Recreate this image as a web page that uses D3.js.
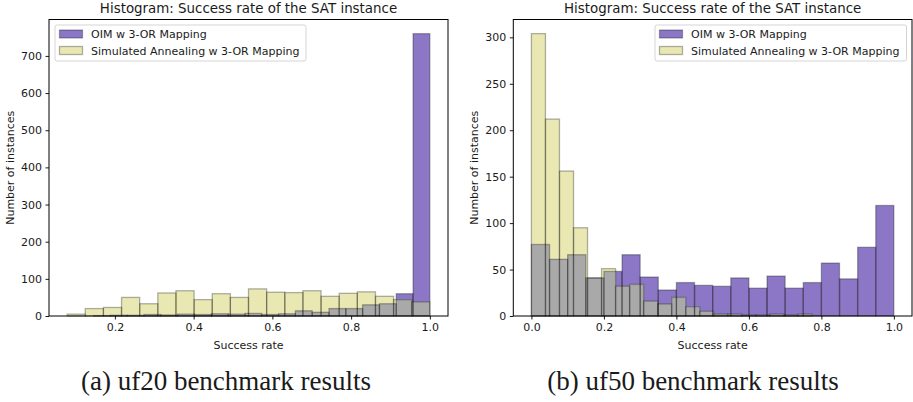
<!DOCTYPE html>
<html>
<head>
<meta charset="utf-8">
<script src="https://cdn.jsdelivr.net/npm/d3@7"></script>
<style>
  body { margin: 0; background: #fff; }
  svg { display: block; }
  text { font-family: "DejaVu Sans", sans-serif; fill: #1a1a1a; }
  .caption { font-family: "Liberation Serif", serif; }
</style>
</head>
<body>
<script>
// 데이터: 히스토그램 bin 범위와 개수
const seriesNames = ['OIM w 3-OR Mapping', 'Simulated Annealing w 3-OR Mapping'];

const uf20OimRange = [0.146, 1.0];
const uf20OimCounts = [1, 2, 2, 4, 3, 5, 4, 6, 5, 7, 4, 6, 14, 10, 20, 20, 30, 33, 60, 760];
const uf20SaRange = [0.0787, 1.0];
const uf20SaCounts = [5, 20, 23, 50, 33, 62, 68, 44, 60, 50, 73, 64, 63, 68, 53, 61, 65, 53, 44, 38];

const uf50OimRange = [0.0, 1.0];
const uf50OimCounts = [77, 61, 66, 41, 48, 66, 42, 28, 36, 33, 32, 41, 30, 43, 30, 36, 57, 40, 74, 119];
const uf50SaRange = [0.0, 0.774];
const uf50SaCounts = [304, 212, 156, 95, 41, 51, 32, 34, 16, 13, 20, 10, 5, 2, 2, 1, 1, 2, 1, 2];

const uf20XTicks = [0.2, 0.4, 0.6, 0.8, 1.0];
const uf20YTicks = [0, 100, 200, 300, 400, 500, 600, 700];
const uf50XTicks = [0.0, 0.2, 0.4, 0.6, 0.8, 1.0];
const uf50YTicks = [0, 50, 100, 150, 200, 250, 300];

const titleText = 'Histogram: Success rate of the SAT instance';
const xLabelText = 'Success rate';
const yLabelText = 'Number of instances';
const captions = ['(a) uf20 benchmark results', '(b) uf50 benchmark results'];

const oimColor = '#8b77c5';
const saColor = '#e9e8b2';
const overlapColor = '#a9a9a9';
const edgeColor = 'rgba(0,0,0,0.3)';

function makeBins(range, counts) {
    const w = (range[1] - range[0]) / counts.length;
    return counts.map((c, i) => ({ x0: range[0] + i * w, x1: range[0] + (i + 1) * w, count: c }));
}

function barAttrs(sel, x, y) {
    sel.attr('x', d => x(d.x0))
        .attr('y', d => y(d.count))
        .attr('width', d => x(d.x1) - x(d.x0))
        .attr('height', d => y(0) - y(d.count));
}

function drawPanel(svg, p) {
    const oimBins = makeBins(p.oimRange, p.oimCounts);
    const saBins = makeBins(p.saRange, p.saCounts);

    const lo = Math.min(p.oimRange[0], p.saRange[0]);
    const hi = Math.max(p.oimRange[1], p.saRange[1]);
    const pad = (hi - lo) * 0.05;
    const maxCount = d3.max(p.oimCounts.concat(p.saCounts));

    const x = d3.scaleLinear().domain([lo - pad, hi + pad]).range([p.left, p.right]);
    const y = d3.scaleLinear().domain([0, maxCount * 1.05]).range([p.bottom, p.top]);

    const g = svg.append('g');

    // 겹치는 영역용 clipPath (OIM 막대)
    const clip = svg.append('defs').append('clipPath').attr('id', p.id + '-clip');
    clip.selectAll('rect').data(oimBins).enter().append('rect').call(barAttrs, x, y);

    // 채우기
    g.append('g').selectAll('rect').data(oimBins).enter().append('rect')
        .call(barAttrs, x, y).attr('fill', oimColor);
    g.append('g').selectAll('rect').data(saBins).enter().append('rect')
        .call(barAttrs, x, y).attr('fill', saColor);
    g.append('g').attr('clip-path', `url(#${p.id}-clip)`)
        .selectAll('rect').data(saBins).enter().append('rect')
        .call(barAttrs, x, y).attr('fill', overlapColor);

    // 테두리
    [oimBins, saBins].forEach(bins => {
        g.append('g').selectAll('rect').data(bins).enter().append('rect')
            .call(barAttrs, x, y)
            .attr('fill', 'none')
            .attr('stroke', edgeColor)
            .attr('stroke-width', 1.3);
    });

    // 축
    const xAxis = d3.axisBottom(x).tickValues(p.xTicks).tickFormat(d3.format('.1f'))
        .tickSize(3.5).tickPadding(3.5);
    const yAxis = d3.axisLeft(y).tickValues(p.yTicks).tickFormat(d3.format('d'))
        .tickSize(3.5).tickPadding(3.5);

    const gx = g.append('g').attr('transform', `translate(0, ${p.bottom})`).call(xAxis);
    const gy = g.append('g').attr('transform', `translate(${p.left}, 0)`).call(yAxis);
    [gx, gy].forEach(a => {
        a.select('.domain').remove();
        a.selectAll('.tick line').attr('stroke', '#000').attr('stroke-width', 0.9);
        a.selectAll('.tick text').attr('font-size', 11).attr('font-family', 'DejaVu Sans').attr('fill', '#1a1a1a');
    });

    g.append('rect')
        .attr('x', p.left).attr('y', p.top)
        .attr('width', p.right - p.left).attr('height', p.bottom - p.top)
        .attr('fill', 'none').attr('stroke', '#000').attr('stroke-width', 1);

    // 제목, 라벨
    const cx = (p.left + p.right) / 2;
    g.append('text').attr('x', cx).attr('y', 13).attr('text-anchor', 'middle')
        .attr('font-size', 13.4).text(titleText);
    g.append('text').attr('x', cx).attr('y', 349).attr('text-anchor', 'middle')
        .attr('font-size', 11).text(xLabelText);
    g.append('text')
        .attr('transform', `translate(${p.yLabelX}, ${(p.top + p.bottom) / 2}) rotate(-90)`)
        .attr('text-anchor', 'middle').attr('font-size', 11).text(yLabelText);

    // 범례
    const lg = g.append('g').attr('transform', `translate(${p.legendX}, 25)`);
    lg.append('rect').attr('width', p.legendW).attr('height', 36).attr('rx', 2)
        .attr('fill', 'rgba(255,255,255,0.8)').attr('stroke', '#d5d5d5').attr('stroke-width', 1);
    [oimColor, saColor].forEach((c, i) => {
        lg.append('rect').attr('x', 4.5).attr('y', 5 + i * 16.5).attr('width', 23).attr('height', 8)
            .attr('fill', c).attr('stroke', edgeColor).attr('stroke-width', 1.3);
        lg.append('text').attr('x', 36).attr('y', 13 + i * 16.5).attr('font-size', 11)
            .text(seriesNames[i]);
    });

    svg.append('text').attr('class', 'caption')
        .attr('x', p.captionX).attr('y', 390).attr('text-anchor', 'middle')
        .attr('font-size', 27).text(p.caption);
}

function renderSVG() {
    const width = 913;
    const height = 402;
    const svg = d3.select('body').append('svg').attr('width', width).attr('height', height);

    drawPanel(svg, {
        id: 'uf20', left: 49, right: 448, top: 19.5, bottom: 316,
        oimRange: uf20OimRange, oimCounts: uf20OimCounts,
        saRange: uf20SaRange, saCounts: uf20SaCounts,
        xTicks: uf20XTicks, yTicks: uf20YTicks,
        yLabelX: 14, legendX: 55, legendW: 251,
        caption: captions[0], captionX: 226
    });

    drawPanel(svg, {
        id: 'uf50', left: 513.3, right: 912, top: 19.5, bottom: 316,
        oimRange: uf50OimRange, oimCounts: uf50OimCounts,
        saRange: uf50SaRange, saCounts: uf50SaCounts,
        xTicks: uf50XTicks, yTicks: uf50YTicks,
        yLabelX: 478, legendX: 655, legendW: 251.5,
        caption: captions[1], captionX: 693
    });
}

window.addEventListener('load', function() {
    requestAnimationFrame(renderSVG);
});
</script>
</body>
</html>
